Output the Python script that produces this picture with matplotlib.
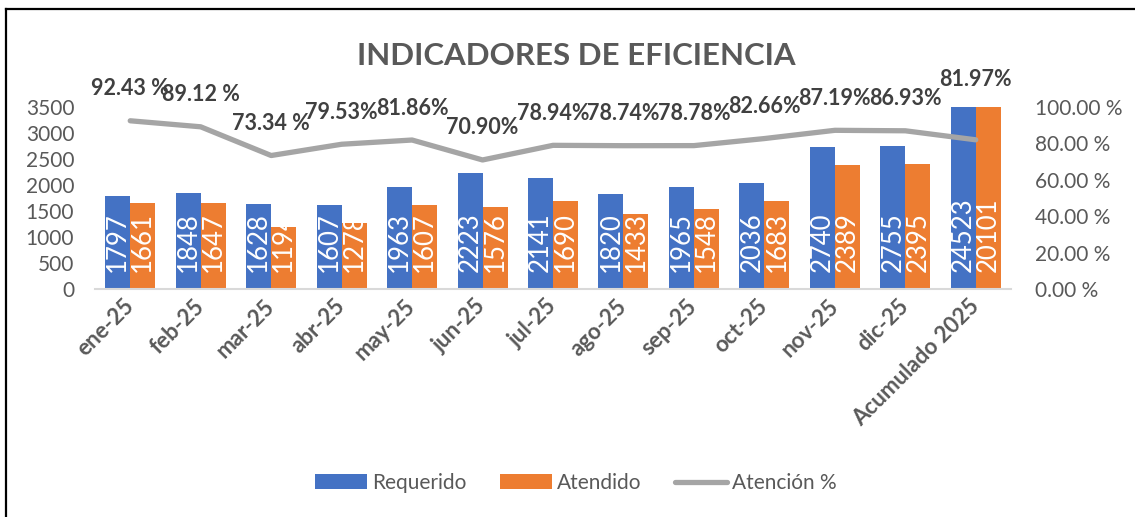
import matplotlib
matplotlib.use("Agg")
import matplotlib.pyplot as plt
from matplotlib.lines import Line2D
import numpy as np

# data
meses = ["ene-25", "feb-25", "mar-25", "abr-25", "may-25", "jun-25", "jul-25",
         "ago-25", "sep-25", "oct-25", "nov-25", "dic-25", "Acumulado 2025"]
requerido = [1797, 1848, 1628, 1607, 1963, 2223, 2141, 1820, 1965, 2036, 2740, 2755, 24523]
atendido = [1661, 1647, 1194, 1278, 1607, 1576, 1690, 1433, 1548, 1683, 2389, 2395, 20101]
atencion = [92.43, 89.12, 73.34, 79.53, 81.86, 70.90, 78.94, 78.74, 78.78, 82.66, 87.19, 86.93, 81.97]
atencion_txt = ["92.43 %", "89.12 %", "73.34 %", "79.53%", "81.86%", "70.90%", "78.94%",
                "78.74%", "78.78%", "82.66%", "87.19%", "86.93%", "81.97%"]
# label lift above the line point, in pixels
label_dy = [32] * 12 + [60]

BLUE = "#4472C4"
ORANGE = "#ED7D31"
LINE = "#A5A5A5"
TXT = "#595959"
W, H = 1135, 517

plt.rcParams['font.family'] = ['Lato', 'DejaVu Sans']

fig = plt.figure(figsize=(W / 100, H / 100), dpi=100)
ax = fig.add_axes([95 / W, 1 - 289 / H, 916 / W, 182 / H])
ax2 = ax.twinx()

x = np.arange(len(meses))
bw = 0.355
b1 = ax.bar(x - bw / 2, requerido, bw, color=BLUE, label="Requerido")
b2 = ax.bar(x + bw / 2, atendido, bw, color=ORANGE, label="Atendido")

ax.set_xlim(-0.5, len(meses) - 0.5)
ax.set_ylim(0, 3500)
ax.set_yticks(range(0, 3501, 500))
ax.tick_params(axis='y', length=0, labelsize=15, labelcolor=TXT, pad=15)
ax.set_xticks(x)
ax.set_xticklabels(meses, rotation=45, ha='right', va='center', rotation_mode='anchor',
                   fontsize=16, fontweight='bold', color=TXT)
ax.tick_params(axis='x', length=0, pad=10)
for s in ["top", "right", "left"]:
    ax.spines[s].set_visible(False)
ax.spines["bottom"].set_color("#D9D9D9")
ax.spines["bottom"].set_linewidth(1.5)

# value labels inside base, clipped to the bar
for bars in (b1, b2):
    for rect in bars:
        h = rect.get_height()
        t = ax.annotate(f"{h:.0f}", (rect.get_x() + rect.get_width() / 2, 0),
                        xytext=(0, 17), textcoords='offset pixels',
                        rotation=90, ha='center', va='bottom',
                        fontsize=18.5, color='white')
        t.set_clip_path(rect)

ax2.plot(x, atencion, color=LINE, linewidth=3.8, solid_capstyle='round',
         solid_joinstyle='round', label="Atención %", zorder=3)
ax2.set_ylim(0, 100)
ax2.set_yticks(range(0, 101, 20))
ax2.set_yticklabels([f"{v:.2f} %" for v in range(0, 101, 20)])
ax2.tick_params(axis='y', length=0, labelsize=15, labelcolor=TXT, pad=17)
for s in ["top", "right", "left", "bottom"]:
    ax2.spines[s].set_visible(False)

for xi, v, s, dy in zip(x, atencion, atencion_txt, label_dy):
    ax2.annotate(s, (xi, v), xytext=(0, dy), textcoords='offset pixels',
                 ha='center', va='center', fontsize=15.5, fontweight='bold',
                 color="#404040", annotation_clip=False)

fig.text(576 / W, 1 - 56 / H, "INDICADORES DE EFICIENCIA", ha='center', va='center',
         fontsize=22.5, fontweight='bold', color=TXT)

handles = [b1, b2, ax2.get_lines()[0]]
fig.legend(handles, ["Requerido", "Atendido", "Atención %"], loc='center',
           bbox_to_anchor=(576 / W, 1 - 483 / H), ncol=3, frameon=False,
           fontsize=15, labelcolor=TXT, handlelength=2.5, handleheight=0.72,
           handletextpad=0.25, columnspacing=1.6)

# border pieces visible in the reference (top and left edges)
fig.add_artist(Line2D([6 / W, 1], [1 - 9 / H, 1 - 9 / H], color='black', lw=1.6))
fig.add_artist(Line2D([6 / W, 6 / W], [0, 1 - 9 / H], color='black', lw=1.6))

fig.savefig("out.png", dpi=100)
